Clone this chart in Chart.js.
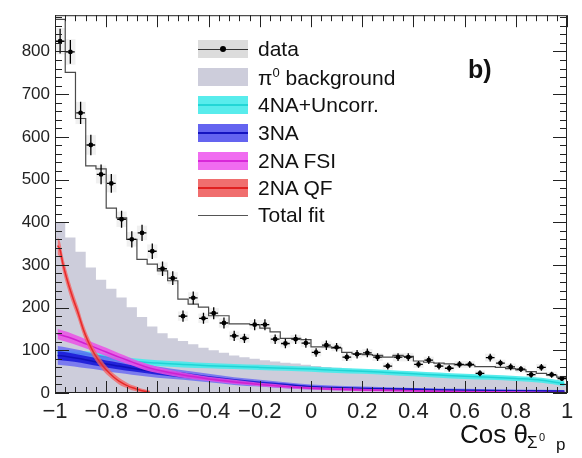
<!DOCTYPE html>
<html>
<head>
<meta charset="utf-8">
<script src="https://cdn.jsdelivr.net/npm/chart.js@4.4.1/dist/chart.umd.min.js"></script>
<style>
html, body { margin: 0; padding: 0; background: #fff; }
#wrap { position: relative; width: 582px; height: 458px; font-family: "Liberation Sans", Arial, sans-serif; color: #111; }
#c { position: absolute; left: 0; top: 0; }
.row { position: absolute; left: 198px; width: 260px; height: 18px; }
.sw { position: absolute; left: 0; top: 0; width: 50px; height: 18px; }
.sw i { position: absolute; left: 0; right: 0; top: 8px; height: 2px; }
.lbl { position: absolute; left: 60px; top: -2px; font-size: 21px; line-height: 1; white-space: nowrap; }
.t { position: absolute; line-height: 1; white-space: nowrap; }
</style>
</head>
<body>
<div id="wrap">
  <canvas id="c" width="582" height="458"></canvas>

  <div class="row" style="top:40px">
    <div class="sw" style="background:#dcdcdc"><i style="background:#333;height:1px;top:9px"></i>
      <b style="position:absolute;left:22px;top:6px;width:6px;height:6px;border-radius:3px;background:#000"></b></div>
    <span class="lbl">data</span>
  </div>
  <div class="row" style="top:68px">
    <div class="sw" style="background:#cdcddb"></div>
    <span class="lbl">π<sup style="font-size:13px;vertical-align:8px">0</sup> background</span>
  </div>
  <div class="row" style="top:96px">
    <div class="sw" style="background:#58ecec"><i style="background:#22d6d6"></i></div>
    <span class="lbl">4NA+Uncorr.</span>
  </div>
  <div class="row" style="top:124px">
    <div class="sw" style="background:#6464f0"><i style="background:#1414c0"></i></div>
    <span class="lbl">3NA</span>
  </div>
  <div class="row" style="top:152px">
    <div class="sw" style="background:#f06cf0"><i style="background:#d828d8"></i></div>
    <span class="lbl">2NA FSI</span>
  </div>
  <div class="row" style="top:179px">
    <div class="sw" style="background:#f06e6e"><i style="background:#e02020"></i></div>
    <span class="lbl">2NA QF</span>
  </div>
  <div class="row" style="top:206px">
    <div class="sw"><i style="background:#555;height:1px;top:9px"></i></div>
    <span class="lbl">Total fit</span>
  </div>

  <div class="t" style="left:468px;top:57px;font-size:25px;font-weight:bold">b)</div>

  <div class="t" style="left:460px;top:421px;font-size:26px">Cos θ</div>
  <div class="t" style="left:527px;top:434px;font-size:17px">Σ</div>
  <div class="t" style="left:539px;top:432px;font-size:11px">0</div>
  <div class="t" style="left:556px;top:436px;font-size:17px">p</div>
</div>

<script>
// --- ข้อมูล ---
const binCenters = [-0.98,-0.94,-0.90,-0.86,-0.82,-0.78,-0.74,-0.70,-0.66,-0.62,
                    -0.58,-0.54,-0.50,-0.46,-0.42,-0.38,-0.34,-0.30,-0.26,-0.22,
                    -0.18,-0.14,-0.10,-0.06,-0.02,0.02,0.06,0.10,0.14,0.18,
                    0.22,0.26,0.30,0.34,0.38,0.42,0.46,0.50,0.54,0.58,
                    0.62,0.66,0.70,0.74,0.78,0.82,0.86,0.90,0.94,0.98];
const binHalf = 0.02;

const dataCounts = [824,799,656,581,512,491,407,360,375,332,
                    291,269,180,223,175,187,164,134,128,160,
                    160,126,116,126,117,95,112,107,84,91,
                    94,84,63,84,84,67,77,63,58,67,
                    67,46,83,70,61,56,43,60,43,34];
const dataStat = [29,28,26,24,23,22,20,19,19,18,
                  17,16,13,15,13,14,13,12,11,13,
                  13,11,11,11,11,10,11,10,9,10,
                  10,9,8,9,9,8,9,8,8,8,
                  8,7,9,8,8,7,7,8,7,6];
const dataSys = [31,30,26,23,21,21,18,17,17,16,
                 15,14,11,13,11,12,11,10,10,11,
                 11,10,9,10,9,9,9,9,9,9,
                 9,9,8,10,10,8,8,8,8,8,
                 8,7,9,8,8,8,7,8,7,7];

const totalFit = [875,751,643,532,525,433,410,360,313,302,
                  286,263,220,208,201,181,181,162,162,160,
                  152,143,128,128,125,108,108,105,95,92,
                  90,88,84,88,86,75,72,70,68,66,
                  65,62,62,60,57,54,50,46,42,37];

const pi0Bkg = [398,364,331,294,265,244,224,201,178,156,
                140,128,122,114,106,100,94,88,84,80,
                77,74,71,69,66,63,61,59,57,55,
                53,51,49,48,46,45,44,43,42,41,
                40,39,38,37,36,34,32,29,26,23];

// 4NA+Uncorr.
const unX   = [-0.99,-0.9,-0.8,-0.7,-0.6,-0.5,-0.4,-0.3,-0.2,-0.1,0,0.1,0.2,0.3,0.4,0.5,0.6,0.7,0.8,0.9,0.99];
const unVal = [95,92,85,75,70,67,64,62,60,58,56,53,51,48,45,42,39,37,34,30,22];
const unErr = [7,7,7,7,7,7,6,6,6,6,6,6,6,6,6,6,6,6,6,6,6];

// 3NA
const tnaX    = [-0.99,-0.95,-0.9,-0.85,-0.8,-0.75,-0.7,-0.6,-0.5,-0.4,-0.3,-0.2,-0.1,0,0.2,0.4,0.6,0.8,0.99];
const tnaVal  = [88,85,80,74,68,63,58,49,42,35,28,23,18,14,10,8,6,5,4];
const tnaErr  = [22,21,20,18,17,16,15,13,11,10,9,8,7,6,5,4,4,3,3];
const tnaCore = [10,10,9,9,8,8,7,6,6,5,5,4,4,3,3,3,2,2,2];

// 2NA FSI
const fsiX   = [-0.99,-0.95,-0.9,-0.85,-0.8,-0.75,-0.7,-0.65,-0.6,-0.5,-0.4,-0.3,-0.2,-0.1,0,0.2,0.4,0.6,0.8,0.99];
const fsiVal = [138,131,120,108,96,84,73,62,54,42,33,26,20,15,11,7,5,3,2,1];
const fsiErr = [12,12,11,10,10,9,8,8,7,6,5,5,4,4,3,3,2,2,2,1];

// 2NA QF
const qfX   = [-0.99,-0.98,-0.97,-0.95,-0.93,-0.91,-0.89,-0.87,-0.85,-0.83,-0.81,-0.79,-0.77,-0.75,-0.73,-0.71,-0.69,-0.67,-0.65,-0.63];
const qfVal = [345,335,305,260,222,188,150,120,96,77,61,48,37,28,21,15,11,7,4,2];
const qfErr = [20,19,18,17,16,15,14,13,12,11,10,9,8,8,7,6,6,5,5,4];

const xTicks = [-1,-0.8,-0.6,-0.4,-0.2,0,0.2,0.4,0.6,0.8,1];
const xTickLabels = ['\u22121','\u22120.8','\u22120.6','\u22120.4','\u22120.2','0','0.2','0.4','0.6','0.8','1'];
const yTicks = [0,100,200,300,400,500,600,700,800];

// --- helper ---
const pts = (xs, ys) => xs.map((x, i) => ({ x: x, y: ys[i] }));
const shift = (xs, ys, es, s) => xs.map((x, i) => ({ x: x, y: ys[i] + s * es[i] }));
const steps = vals => binCenters.flatMap((c, i) => [{ x: c - binHalf, y: vals[i] }, { x: c + binHalf, y: vals[i] }]);

function band(lo, hi, color, order) {
    return [
        { data: lo, borderWidth: 0, pointRadius: 0, fill: false, order: order, cubicInterpolationMode: 'monotone' },
        { data: hi, borderWidth: 0, pointRadius: 0, fill: '-1', backgroundColor: color, order: order - 0.5, cubicInterpolationMode: 'monotone' }
    ];
}
function centerLine(data, color, order) {
    return { data: data, borderColor: color, borderWidth: 1.5, pointRadius: 0, fill: false, order: order, cubicInterpolationMode: 'monotone' };
}

const datasets = [
    { data: steps(pi0Bkg), borderWidth: 0, pointRadius: 0, fill: 'origin', backgroundColor: '#cdcddb', order: 30 },
    ...band(shift(unX, unVal, unErr, -1), shift(unX, unVal, unErr, 1), 'rgba(70,235,235,0.9)', 28),
    centerLine(pts(unX, unVal), '#1fd4d4', 27),
    ...band(shift(tnaX, tnaVal, tnaErr, -1), shift(tnaX, tnaVal, tnaErr, 1), 'rgba(95,95,245,0.75)', 25),
    ...band(shift(tnaX, tnaVal, tnaCore, -1), shift(tnaX, tnaVal, tnaCore, 1), 'rgba(25,25,215,0.9)', 23),
    centerLine(pts(tnaX, tnaVal), '#1010b8', 22),
    ...band(shift(fsiX, fsiVal, fsiErr, -1), shift(fsiX, fsiVal, fsiErr, 1), 'rgba(235,80,230,0.85)', 20),
    centerLine(pts(fsiX, fsiVal), '#d020d0', 19),
    ...band(shift(qfX, qfVal, qfErr, -1), shift(qfX, qfVal, qfErr, 1), 'rgba(245,95,95,0.75)', 17),
    centerLine(pts(qfX, qfVal), '#e82a2a', 16),
    { data: steps(totalFit), borderColor: '#4a4a4a', borderWidth: 1.2, pointRadius: 0, fill: false, order: 5 },
    { data: pts(binCenters, dataCounts), showLine: false, pointRadius: 2.4, pointBackgroundColor: '#000', pointBorderWidth: 0, order: 1 }
];

const histPlugin = {
    id: 'histPlugin',
    beforeDatasetsDraw(chart) {
        const { ctx, scales: { x, y } } = chart;
        ctx.save();
        ctx.fillStyle = 'rgba(200,200,200,0.28)';
        binCenters.forEach((c, i) => {
            const x0 = x.getPixelForValue(c - binHalf), x1 = x.getPixelForValue(c + binHalf);
            const y0 = y.getPixelForValue(dataCounts[i] + dataSys[i]), y1 = y.getPixelForValue(dataCounts[i] - dataSys[i]);
            ctx.fillRect(x0, y0, x1 - x0, y1 - y0);
        });
        ctx.restore();
    },
    afterDatasetsDraw(chart) {
        const { ctx, scales: { x, y } } = chart;
        ctx.save();
        ctx.strokeStyle = '#000';
        ctx.lineWidth = 1.3;
        ctx.beginPath();
        binCenters.forEach((c, i) => {
            const px = x.getPixelForValue(c), py = y.getPixelForValue(dataCounts[i]);
            ctx.moveTo(x.getPixelForValue(c - 0.017), py);
            ctx.lineTo(x.getPixelForValue(c + 0.017), py);
            ctx.moveTo(px, y.getPixelForValue(dataCounts[i] + dataStat[i]));
            ctx.lineTo(px, y.getPixelForValue(dataCounts[i] - dataStat[i]));
        });
        ctx.stroke();
        ctx.restore();
    },
    afterDraw(chart) {
        const { ctx, chartArea: a, scales: { x, y } } = chart;
        ctx.save();
        ctx.strokeStyle = '#222';
        ctx.lineWidth = 1;
        ctx.strokeRect(a.left + 0.5, a.top + 0.5, a.right - a.left - 1, a.bottom - a.top - 1);
        ctx.beginPath();
        // x ticks, every 0.04, big every 0.2
        for (let k = 0; k <= 50; k++) {
            const px = Math.round(x.getPixelForValue(-1 + k * 0.04)) + 0.5;
            const len = (k % 5 === 0) ? 12 : 6;
            ctx.moveTo(px, a.bottom); ctx.lineTo(px, a.bottom - len);
            ctx.moveTo(px, a.top); ctx.lineTo(px, a.top + len);
        }
        // y ticks, every 20, big every 100
        for (let v = 0; v <= 880; v += 20) {
            const py = Math.round(y.getPixelForValue(v)) + 0.5;
            const len = (v % 100 === 0) ? 14 : 7;
            ctx.moveTo(a.left, py); ctx.lineTo(a.left + len, py);
            ctx.moveTo(a.right, py); ctx.lineTo(a.right - len, py);
        }
        ctx.stroke();
        ctx.restore();
    }
};

new Chart(document.getElementById('c').getContext('2d'), {
    type: 'line',
    data: { datasets: datasets },
    options: {
        responsive: false,
        animation: false,
        devicePixelRatio: 1,
        layout: { padding: { top: 12, right: 15, left: 0, bottom: 0 } },
        plugins: { legend: { display: false }, tooltip: { enabled: false } },
        scales: {
            x: {
                type: 'linear', min: -1, max: 1,
                grid: { display: false, drawTicks: false },
                border: { display: false },
                afterBuildTicks: s => { s.ticks = xTicks.map(v => ({ value: v })); },
                afterFit: s => { s.height = 65; },
                ticks: {
                    autoSkip: false, maxRotation: 0, minRotation: 0, padding: 6,
                    color: '#222', font: { family: 'Liberation Sans', size: 22 },
                    callback: v => xTickLabels[xTicks.indexOf(v)]
                }
            },
            y: {
                type: 'linear', min: 0, max: 885,
                grid: { display: false, drawTicks: false },
                border: { display: false },
                afterBuildTicks: s => { s.ticks = yTicks.map(v => ({ value: v })); },
                afterFit: s => { s.width = 55; },
                ticks: {
                    padding: 5, color: '#222', font: { family: 'Liberation Sans', size: 17 },
                    callback: v => String(v)
                }
            }
        }
    },
    plugins: [histPlugin]
});
</script>
</body>
</html>
